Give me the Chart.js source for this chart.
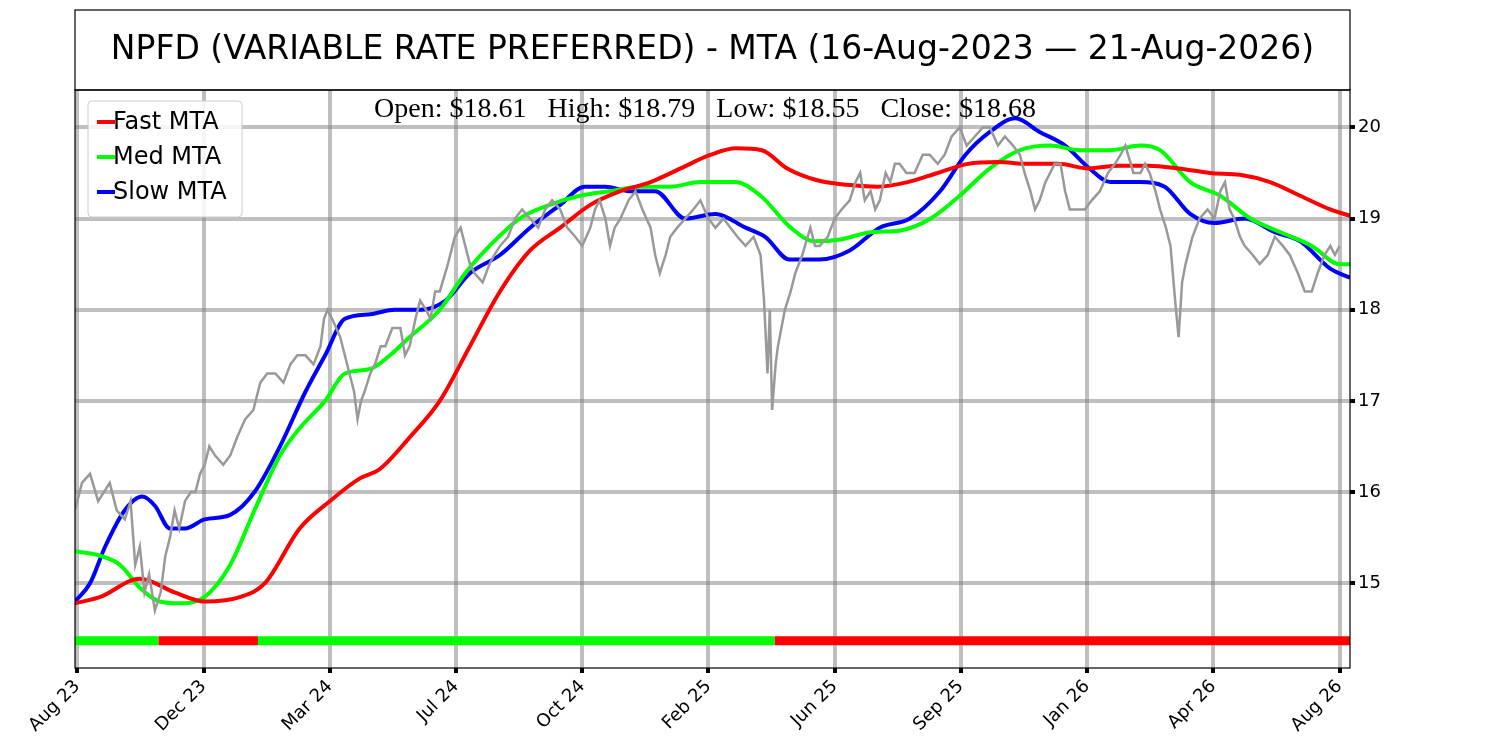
<!DOCTYPE html>
<html><head><meta charset="utf-8">
<script src="https://cdn.jsdelivr.net/npm/chart.js@4"></script>
<style>body{margin:0;background:#fff}#wrap{width:1500px;height:750px}</style>
</head><body><div id="wrap"><canvas id="c"></canvas></div>
<script>
// x is days since 16-Aug-2023
const tickDays = [2, 111, 220, 329, 438, 547, 656, 765, 874, 983, 1092];
const tickLabels = ['Aug 23','Dec 23','Mar 24','Jul 24','Oct 24','Feb 25','Jun 25','Sep 25','Jan 26','Apr 26','Aug 26'];
const yTicks = [15, 16, 17, 18, 19, 20];

const priceDays = [0,6,13,20,30,36,43,48,52,56,60,64,69,74,78,82,86,90,95,100,104,108,112,116,121,128,134,140,147,154,160,166,173,180,186,192,199,206,212,215,218,222,229,233,237,241,244,247,250,255,259,264,268,274,281,285,289,294,298,303,307,311,315,322,328,333,337,341,345,352,358,362,367,374,380,386,393,400,406,412,419,425,432,438,445,449,453,458,462,466,471,478,484,490,497,501,505,510,514,520,527,534,540,547,553,560,566,572,579,586,592,595,598,600,602,605,607,610,613,618,622,628,635,639,643,650,656,662,669,674,678,682,687,691,695,700,704,708,712,718,725,732,738,745,751,757,764,770,777,784,790,797,803,810,816,820,825,829,833,838,842,846,851,855,859,866,872,878,885,892,898,903,907,914,920,924,928,933,937,942,946,950,953,956,959,965,971,978,984,989,993,997,1001,1006,1010,1017,1023,1030,1036,1043,1049,1056,1062,1068,1073,1079,1084,1088,1092,1097,1101];
const priceVals = [15.8,16.1,16.2,15.9,16.1,15.8,15.7,15.9,15.2,15.4,14.9,15.1,14.7,14.9,15.3,15.5,15.8,15.6,15.9,16.0,16.0,16.2,16.3,16.5,16.4,16.3,16.4,16.6,16.8,16.9,17.2,17.3,17.3,17.2,17.4,17.5,17.5,17.4,17.6,17.9,18.0,17.9,17.7,17.5,17.3,17.1,16.8,17.0,17.1,17.3,17.4,17.6,17.6,17.8,17.8,17.5,17.6,17.9,18.1,18.0,17.9,18.2,18.2,18.5,18.8,18.9,18.7,18.5,18.4,18.3,18.5,18.6,18.7,18.8,19.0,19.1,19.0,18.9,19.1,19.2,19.1,18.9,18.8,18.7,18.9,19.1,19.2,19.0,18.7,18.9,19.0,19.2,19.3,19.1,18.9,18.6,18.4,18.6,18.8,18.9,19.0,19.1,19.2,19.0,18.9,19.0,18.9,18.8,18.7,18.8,18.6,18.1,17.3,18.0,16.9,17.4,17.6,17.8,18.0,18.2,18.4,18.6,18.9,18.7,18.7,18.8,19.0,19.1,19.2,19.4,19.5,19.2,19.3,19.1,19.2,19.5,19.4,19.6,19.6,19.5,19.5,19.7,19.7,19.6,19.7,19.9,20.0,19.8,19.9,20.0,20.0,19.8,19.9,19.8,19.7,19.5,19.3,19.1,19.2,19.4,19.5,19.6,19.6,19.3,19.1,19.1,19.1,19.2,19.3,19.5,19.6,19.7,19.8,19.5,19.5,19.6,19.5,19.3,19.1,18.9,18.7,18.1,17.7,18.3,18.5,18.8,19.0,19.1,19.0,19.3,19.4,19.1,19.0,18.8,18.7,18.6,18.5,18.6,18.8,18.7,18.6,18.4,18.2,18.2,18.4,18.6,18.7,18.6,18.7];

const fastDays = [0,22,56,86,112,143,164,194,220,246,263,289,315,341,367,393,419,445,471,497,523,549,571,593,615,641,667,693,719,745,771,797,823,849,875,901,927,953,980,1006,1032,1058,1084,1101];
const fastVals = [14.78,14.85,15.05,14.9,14.8,14.85,15.0,15.6,15.9,16.15,16.25,16.6,17.0,17.6,18.2,18.65,18.9,19.15,19.3,19.4,19.55,19.7,19.77,19.75,19.55,19.42,19.37,19.35,19.4,19.5,19.6,19.62,19.6,19.6,19.55,19.58,19.58,19.55,19.5,19.48,19.4,19.25,19.1,19.03];

const medDays = [0,22,39,56,73,91,112,134,155,177,194,216,233,255,272,289,315,337,358,384,410,436,462,488,514,540,570,592,618,639,661,687,713,739,764,790,816,842,868,894,920,937,963,989,1015,1041,1068,1092,1101];
const medVals = [15.35,15.3,15.2,14.95,14.8,14.78,14.85,15.2,15.8,16.4,16.7,17.0,17.3,17.35,17.5,17.7,18.0,18.4,18.7,19.0,19.15,19.25,19.3,19.35,19.35,19.4,19.4,19.25,18.9,18.75,18.77,18.85,18.87,19.0,19.25,19.55,19.75,19.8,19.75,19.75,19.8,19.75,19.4,19.25,19.0,18.85,18.7,18.5,18.5];

const slowDays = [0,13,26,43,58,69,82,95,112,134,155,177,199,216,233,255,276,298,320,341,367,393,419,440,458,479,501,527,553,579,596,617,643,669,695,721,747,769,790,812,833,855,876,894,920,941,963,984,1010,1036,1058,1084,1101];
const slowVals = [14.8,15.0,15.4,15.8,15.95,15.85,15.6,15.6,15.7,15.75,16.0,16.5,17.1,17.5,17.9,17.95,18.0,18.0,18.1,18.4,18.6,18.9,19.15,19.35,19.35,19.3,19.3,19.0,19.05,18.9,18.8,18.55,18.55,18.65,18.9,19.0,19.3,19.7,19.95,20.1,19.95,19.8,19.55,19.4,19.4,19.35,19.05,18.95,19.0,18.85,18.75,18.45,18.35];

// regime bar: [startDay, endDay, state]
const regimes = [[0, 72, 'up'], [72, 158, 'down'], [158, 604, 'up'], [604, 1101, 'down']];
const regimeLevel = 14.37;
const ohlc = { open: 18.61, high: 18.79, low: 18.55, close: 18.68 };

const pts = (xs, ys) => xs.map((x, i) => ({ x, y: ys[i] }));
const regimeSets = regimes.map(r => ({
  data: [{ x: r[0], y: regimeLevel }, { x: r[1], y: regimeLevel }],
  borderColor: r[2] === 'up' ? '#00ff00' : '#ff0000', borderWidth: 9, pointRadius: 0, borderCapStyle: 'butt'
}));

const frame = {
  id: 'frame',
  afterDraw(chart) {
    const { ctx, chartArea: a } = chart;
    ctx.save();
    ctx.strokeStyle = '#000'; ctx.lineWidth = 1.2;
    ctx.strokeRect(a.left, a.top, a.right - a.left, a.bottom - a.top);
    ctx.strokeRect(a.left, 10, a.right - a.left, a.top - 10);
    ctx.fillStyle = '#000'; ctx.textAlign = 'center'; ctx.textBaseline = 'middle';
    ctx.font = '33px "DejaVu Sans"';
    ctx.fillText('NPFD (VARIABLE RATE PREFERRED) - MTA (16-Aug-2023 \u2014 21-Aug-2026)', (a.left + a.right) / 2, 50);
    ctx.font = '28px "Liberation Serif"';
    ctx.fillText(`Open: $${ohlc.open.toFixed(2)}   High: $${ohlc.high.toFixed(2)}   Low: $${ohlc.low.toFixed(2)}   Close: $${ohlc.close.toFixed(2)}`, 705, a.top + 20);
    // legend
    const items = [['Fast MTA', '#ff0000'], ['Med MTA', '#00ff00'], ['Slow MTA', '#0000ff']];
    ctx.fillStyle = 'rgba(255,255,255,0.85)';
    ctx.strokeStyle = '#ccc'; ctx.lineWidth = 1;
    ctx.beginPath(); ctx.roundRect(a.left + 13, a.top + 11, 154, 116, 4); ctx.fill(); ctx.stroke();
    ctx.font = '24px "DejaVu Sans"'; ctx.textAlign = 'left';
    items.forEach((it, i) => {
      const y = a.top + 32 + i * 35;
      ctx.strokeStyle = it[1]; ctx.lineWidth = 4;
      ctx.beginPath(); ctx.moveTo(a.left + 22, y); ctx.lineTo(a.left + 40, y); ctx.stroke();
      ctx.fillStyle = '#000'; ctx.fillText(it[0], a.left + 38, y + 1);
    });
    ctx.restore();
  }
};

new Chart(document.getElementById('c'), {
  type: 'line',
  data: {
    datasets: [
      { data: pts(priceDays, priceVals), borderColor: '#999999', borderWidth: 2.5, pointRadius: 0, tension: 0 },
      { data: pts(fastDays, fastVals), borderColor: '#ff0000', borderWidth: 4, pointRadius: 0, cubicInterpolationMode: 'monotone' },
      { data: pts(medDays, medVals), borderColor: '#00ff00', borderWidth: 4, pointRadius: 0, cubicInterpolationMode: 'monotone' },
      { data: pts(slowDays, slowVals), borderColor: '#0000ff', borderWidth: 4, pointRadius: 0, cubicInterpolationMode: 'monotone' },
      ...regimeSets
    ]
  },
  options: {
    responsive: true, maintainAspectRatio: false, animation: false,
    layout: { padding: { left: 75, right: 95, top: 90, bottom: 0 } },
    plugins: { legend: { display: false }, tooltip: { enabled: false } },
    scales: {
      x: {
        type: 'linear', min: 0, max: 1101,
        afterBuildTicks: s => { s.ticks = tickDays.map(v => ({ value: v })); },
        afterFit: s => { s.height = 82; },
        ticks: { autoSkip: false, maxRotation: 45, minRotation: 45, color: '#000', font: { size: 18, family: 'DejaVu Sans' },
          callback: (v) => tickLabels[tickDays.indexOf(v)] },
        grid: { color: 'rgba(128,128,128,0.5)', lineWidth: 4, drawTicks: true, tickColor: '#000', tickLength: 5 },
        border: { display: false }
      },
      y: {
        position: 'right', min: 14.07, max: 20.41,
        afterBuildTicks: s => { s.ticks = yTicks.map(v => ({ value: v })); },
        afterFit: s => { s.width = 55; },
        ticks: { color: '#000', font: { size: 18, family: 'DejaVu Sans' } },
        grid: { color: 'rgba(128,128,128,0.5)', lineWidth: 4, tickColor: '#000', tickLength: 5 },
        border: { display: false }
      }
    }
  },
  plugins: [frame]
});
</script></body></html>
